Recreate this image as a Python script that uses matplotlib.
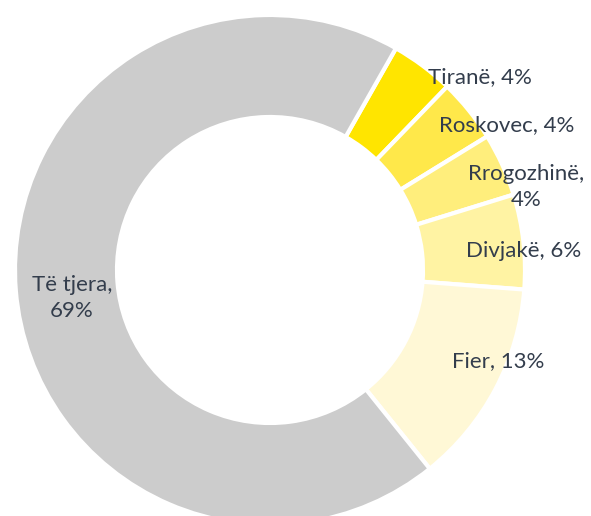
import matplotlib
matplotlib.use("Agg")
import matplotlib.pyplot as plt

categories = ["Tiranë", "Roskovec", "Rrogozhinë", "Divjakë", "Fier", "Të tjera"]
values = [4, 4, 4, 6, 13, 69]
label_texts = ["Tiranë, 4%", "Roskovec, 4%", "Rrogozhinë,\n4%", "Divjakë, 6%", "Fier, 13%", "Të tjera,\n69%"]
colors = ["#FFE500", "#FFE84A", "#FFEE7C", "#FFF3A3", "#FFF8D6", "#CCCCCC"]

W, H = 591, 516
fig = plt.figure(figsize=(W / 100, H / 100), dpi=100)
ax = fig.add_axes([0, 0, 1, 1])

cx, cy = 270, H - 270
R = 255
ring = 102

wedges, _ = ax.pie(values, colors=colors, startangle=60.4, counterclock=False,
                   center=(cx, cy), radius=R,
                   wedgeprops=dict(width=ring, edgecolor="white", linewidth=3))

ax.set_xlim(0, W)
ax.set_ylim(0, H)
ax.set_aspect("equal")
ax.axis("off")

# label positions (pixel coords, y from top)
label_pos = [(480, 77), (507, 125), (526, 187), (524, 251), (498, 361), (72, 298)]
for txt, (x, y) in zip(label_texts, label_pos):
    ax.text(x, H - y, txt, ha="center", va="center", fontsize=16, color="#333D4C",
            family="Lato", linespacing=1.35)

fig.savefig("out.png", dpi=100)
